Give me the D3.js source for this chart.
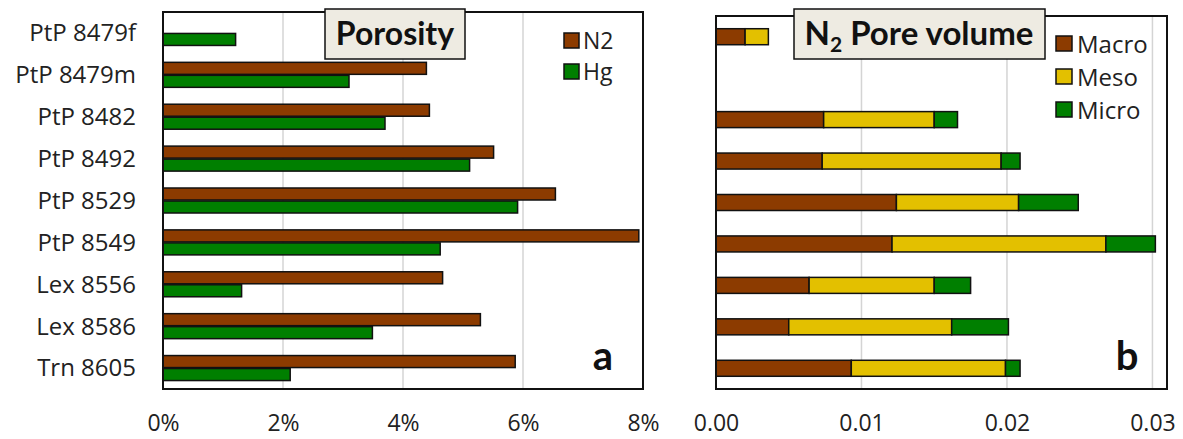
<!DOCTYPE html>
<html>
<head>
<meta charset="utf-8">
<script src="https://cdn.jsdelivr.net/npm/d3@7"></script>
<style>
  html, body { margin: 0; padding: 0; background: #fff; }
  svg { display: block; }
  .lbl { font-family: "Open Sans", sans-serif; fill: #222; }
  .ttl { font-family: Lato, "Open Sans", sans-serif; font-weight: 700; fill: #111; }
</style>
</head>
<body>
<svg id="chart" width="1183" height="439"></svg>
<script>
// Samples (top to bottom)
const samples = ["PtP 8479f", "PtP 8479m", "PtP 8482", "PtP 8492", "PtP 8529",
                 "PtP 8549", "Lex 8556", "Lex 8586", "Trn 8605"];

// Panel a: porosity (fraction)
const porosityN2 = [0, 0.0439, 0.0444, 0.0551, 0.0654, 0.0793, 0.0466, 0.0529, 0.0587];
const porosityHg = [0.0121, 0.0310, 0.0370, 0.0511, 0.0591, 0.0462, 0.0131, 0.0349, 0.0212];
const porosityTicks = [0, 0.02, 0.04, 0.06, 0.08];

// Panel b: N2 pore volume by pore class
const macroVol = [0.0020, 0, 0.0074, 0.0073, 0.0124, 0.0121, 0.0064, 0.0050, 0.0093];
const mesoVol  = [0.0016, 0, 0.0076, 0.0123, 0.0084, 0.0147, 0.0086, 0.0112, 0.0106];
const microVol = [0,      0, 0.0016, 0.0013, 0.0041, 0.0034, 0.0025, 0.0039, 0.0010];
const volumeTicks = [0, 0.01, 0.02, 0.03];

const BROWN = "#8c3b00", GREEN = "#007f00", YELLOW = "#e3c000";

const svg = d3.select("#chart");

// ---------- Panel a ----------
const xa = d3.scaleLinear().domain([0, 0.08]).range([163, 643]);
const ya = d3.scaleBand().domain(samples).range([12, 389]);

const ga = svg.append("g");
ga.selectAll("line.grid").data(porosityTicks.slice(1, -1)).join("line")
  .attr("x1", d => xa(d)).attr("x2", d => xa(d))
  .attr("y1", 12).attr("y2", 389)
  .attr("stroke", "#d4d4d4").attr("stroke-width", 1.5);

const rowsA = samples.map((s, i) => ({ s, n2: porosityN2[i], hg: porosityHg[i] }));
ga.selectAll("rect.n2").data(rowsA.filter(d => d.n2 > 0)).join("rect")
  .attr("x", xa(0)).attr("y", d => ya(d.s) + ya.bandwidth() / 2 - 12.5)
  .attr("width", d => xa(d.n2) - xa(0)).attr("height", 12)
  .attr("fill", BROWN).attr("stroke", "#111").attr("stroke-width", 1.5);
ga.selectAll("rect.hg").data(rowsA.filter(d => d.hg > 0)).join("rect")
  .attr("x", xa(0)).attr("y", d => ya(d.s) + ya.bandwidth() / 2 + 0.5)
  .attr("width", d => xa(d.hg) - xa(0)).attr("height", 12)
  .attr("fill", GREEN).attr("stroke", "#111").attr("stroke-width", 1.5);

ga.append("rect").attr("x", 163).attr("y", 12).attr("width", 480).attr("height", 377)
  .attr("fill", "none").attr("stroke", "#111").attr("stroke-width", 2);

// category labels
const axA = ga.append("g").attr("transform", "translate(136,0)")
  .call(d3.axisLeft(ya).tickSize(0).tickPadding(0));
axA.select(".domain").remove();
axA.selectAll("text").attr("class", "lbl").attr("font-size", 24).attr("dy", "0.35em")
  .attr("fill", "#222");

// x ticks
const bxA = ga.append("g").attr("transform", "translate(0,414)")
  .call(d3.axisBottom(xa).tickValues(porosityTicks).tickFormat(d3.format(".0%")).tickSize(0).tickPadding(0));
bxA.select(".domain").remove();
bxA.selectAll("text").attr("class", "lbl").attr("font-size", 23).attr("dy", "0.75em")
  .attr("fill", "#222");

// title box
ga.append("rect").attr("x", 325).attr("y", 9).attr("width", 140).attr("height", 50)
  .attr("fill", "#eeebe2").attr("stroke", "#111").attr("stroke-width", 1.5);
ga.append("text").attr("class", "ttl").attr("x", 395).attr("y", 45)
  .attr("text-anchor", "middle").attr("font-size", 32).text("Porosity");

// legend
const legA = [{ k: "N2", c: BROWN }, { k: "Hg", c: GREEN }];
const lgA = ga.selectAll("g.leg").data(legA).join("g")
  .attr("transform", (d, i) => `translate(564,${33 + i * 31})`);
lgA.append("rect").attr("width", 15).attr("height", 15).attr("fill", d => d.c)
  .attr("stroke", "#111").attr("stroke-width", 1.5);
lgA.append("text").attr("class", "lbl").attr("x", 19).attr("y", 15.5)
  .attr("font-size", 23).text(d => d.k);

ga.append("text").attr("class", "ttl").attr("x", 603).attr("y", 370)
  .attr("text-anchor", "middle").attr("font-size", 40).text("a");

// ---------- Panel b ----------
const xb = d3.scaleLinear().domain([0, 0.031]).range([716, 1167]);
const yb = d3.scaleBand().domain(samples).range([16, 389]);

const gb = svg.append("g");
gb.selectAll("line.grid").data(volumeTicks.slice(1)).join("line")
  .attr("x1", d => xb(d)).attr("x2", d => xb(d))
  .attr("y1", 16).attr("y2", 389)
  .attr("stroke", "#d4d4d4").attr("stroke-width", 1.5);

const keys = ["macro", "meso", "micro"];
const colors = { macro: BROWN, meso: YELLOW, micro: GREEN };
const rowsB = samples.map((s, i) => ({ s, macro: macroVol[i], meso: mesoVol[i], micro: microVol[i] }));
const stacked = d3.stack().keys(keys)(rowsB);
gb.selectAll("g.layer").data(stacked).join("g")
  .attr("fill", d => colors[d.key])
  .selectAll("rect").data(d => d.filter(p => p[1] - p[0] > 0)).join("rect")
  .attr("x", d => xb(d[0])).attr("width", d => xb(d[1]) - xb(d[0]))
  .attr("y", d => yb(d.data.s) + yb.bandwidth() / 2 - 8).attr("height", 16)
  .attr("stroke", "#111").attr("stroke-width", 1.5);

gb.append("rect").attr("x", 716).attr("y", 16).attr("width", 451).attr("height", 373)
  .attr("fill", "none").attr("stroke", "#111").attr("stroke-width", 2);

const bxB = gb.append("g").attr("transform", "translate(0,414)")
  .call(d3.axisBottom(xb).tickValues(volumeTicks).tickFormat(d3.format(".2f")).tickSize(0).tickPadding(0));
bxB.select(".domain").remove();
bxB.selectAll("text").attr("class", "lbl").attr("font-size", 23).attr("dy", "0.75em")
  .attr("fill", "#222");

gb.append("rect").attr("x", 794).attr("y", 9).attr("width", 251).attr("height", 50)
  .attr("fill", "#eeebe2").attr("stroke", "#111").attr("stroke-width", 1.5);
const tb = gb.append("text").attr("class", "ttl").attr("x", 919).attr("y", 45)
  .attr("text-anchor", "middle").attr("font-size", 33);
tb.append("tspan").text("N");
tb.append("tspan").attr("font-size", 21).attr("dy", 7).text("2");
tb.append("tspan").attr("dy", -7).text(" Pore volume");

const legB = [{ k: "Macro", c: BROWN }, { k: "Meso", c: YELLOW }, { k: "Micro", c: GREEN }];
const lgB = gb.selectAll("g.leg").data(legB).join("g")
  .attr("transform", (d, i) => `translate(1056,${36 + i * 33})`);
lgB.append("rect").attr("width", 16).attr("height", 15).attr("fill", d => d.c)
  .attr("stroke", "#111").attr("stroke-width", 1.5);
lgB.append("text").attr("class", "lbl").attr("x", 21).attr("y", 16.5)
  .attr("font-size", 24).text(d => d.k);

gb.append("text").attr("class", "ttl").attr("x", 1127).attr("y", 370)
  .attr("text-anchor", "middle").attr("font-size", 40).text("b");
</script>
</body>
</html>
